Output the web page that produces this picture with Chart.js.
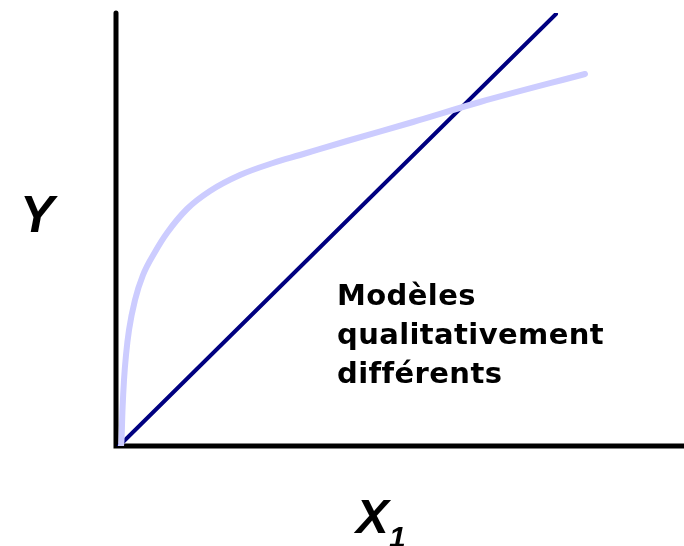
<!DOCTYPE html>
<html>
<head>
<meta charset="utf-8">
<script src="https://cdn.jsdelivr.net/npm/chart.js@4/dist/chart.umd.min.js"></script>
<style>
  html, body { margin: 0; padding: 0; background: #fff; }
  #wrap { width: 684px; height: 546px; }
</style>
</head>
<body>
<div id="wrap"><canvas id="modelChart"></canvas></div>
<script>
// --- données ---
const curveX = [5, 5.5, 6.5, 8, 10, 13, 19, 27, 39, 51, 71, 94, 124, 157, 184, 231, 297, 364, 469];
const curveY = [0, 6, 36, 66, 91, 116, 146, 171, 194, 213, 237, 255, 271, 283, 291, 305, 324, 344, 372];
const lineX = [3, 440];
const lineY = [0, 432];
const annotation = ['Modèles', 'qualitativement', 'différents'];

const toPoints = (xs, ys) => xs.map((x, i) => ({ x: x, y: ys[i] }));

// axes + textes dessinés à la main
const decor = {
    id: 'decor',
    beforeDatasetsDraw(chart) {
        const { ctx, chartArea: a } = chart;
        ctx.save();
        ctx.strokeStyle = '#000';
        ctx.lineWidth = 5;
        ctx.lineCap = 'round';
        ctx.beginPath();
        ctx.moveTo(a.left, a.top);
        ctx.lineTo(a.left, a.bottom);
        ctx.lineTo(a.right + 5, a.bottom);
        ctx.stroke();
        ctx.restore();
    },
    afterDraw(chart) {
        const ctx = chart.ctx;
        ctx.save();
        ctx.fillStyle = '#000';
        ctx.textBaseline = 'alphabetic';
        ctx.font = 'italic bold 51px "Liberation Sans", Arial, sans-serif';
        ctx.fillText('Y', 20, 232);
        ctx.font = 'italic bold 49px "Liberation Sans", Arial, sans-serif';
        ctx.fillText('X', 356, 533);
        ctx.font = 'italic bold 30px "Liberation Sans", Arial, sans-serif';
        ctx.fillText('1', 389, 547);

        // petit espacement : évite la ligature "ff"
        ctx.font = 'bold 29px "DejaVu Sans", Verdana, sans-serif';
        ctx.letterSpacing = '0.4px';
        annotation.forEach((t, i) => ctx.fillText(t, 337, 305 + i * 39));
        ctx.restore();
    }
};

new Chart(document.getElementById('modelChart'), {
    type: 'line',
    data: {
        datasets: [{
            data: toPoints(curveX, curveY),
            borderColor: '#ccccff',
            borderWidth: 6,
            pointRadius: 0,
            cubicInterpolationMode: 'monotone',
            borderCapStyle: 'round'
        }, {
            data: toPoints(lineX, lineY),
            borderColor: '#000080',
            borderWidth: 4,
            pointRadius: 0,
            borderCapStyle: 'round'
        }]
    },
    options: {
        responsive: true,
        maintainAspectRatio: false,
        animation: false,
        layout: { padding: { left: 116, top: 13, right: 0, bottom: 100 } },
        plugins: { legend: { display: false }, tooltip: { enabled: false } },
        scales: {
            x: { type: 'linear', min: 0, max: 568, display: false },
            y: { type: 'linear', min: 0, max: 433, display: false }
        }
    },
    plugins: [decor]
});
</script>
</body>
</html>
